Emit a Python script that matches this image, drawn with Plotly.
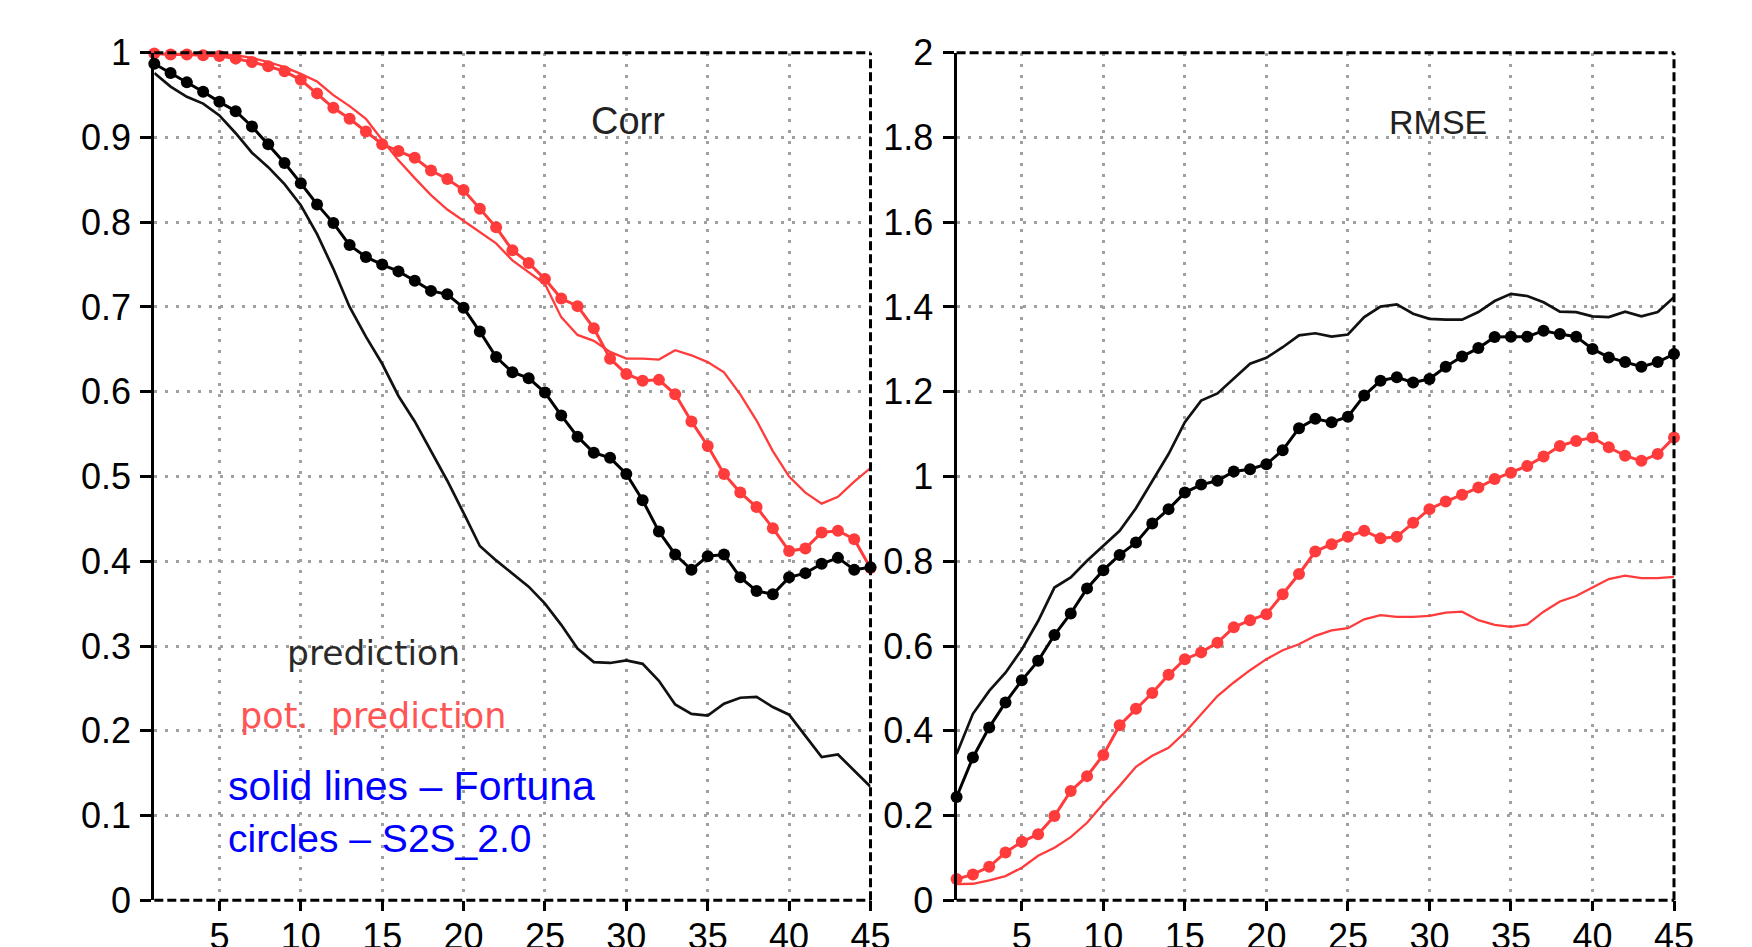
import plotly.graph_objects as go

lead_days = list(range(1, 46))

corr_fortuna_pred = [0.976, 0.960, 0.948, 0.940, 0.926, 0.905, 0.882, 0.865, 0.845, 0.820,
                     0.786, 0.745, 0.700, 0.665, 0.633, 0.595, 0.565, 0.530, 0.495, 0.457,
                     0.418, 0.401, 0.386, 0.370, 0.350, 0.325, 0.297, 0.281, 0.280, 0.283,
                     0.279, 0.259, 0.231, 0.220, 0.218, 0.232, 0.239, 0.240, 0.228, 0.219,
                     0.194, 0.169, 0.172, 0.153, 0.134]
corr_s2s_pred = [0.987, 0.976, 0.965, 0.954, 0.942, 0.931, 0.913, 0.892, 0.870, 0.846,
                 0.821, 0.799, 0.773, 0.759, 0.750, 0.742, 0.731, 0.719, 0.715, 0.699,
                 0.671, 0.641, 0.623, 0.616, 0.599, 0.572, 0.547, 0.528, 0.522, 0.503,
                 0.472, 0.435, 0.408, 0.390, 0.406, 0.408, 0.381, 0.365, 0.361, 0.381,
                 0.386, 0.397, 0.404, 0.390, 0.393]
corr_fortuna_pot = [1.000, 1.000, 0.999, 0.999, 0.998, 0.997, 0.994, 0.989, 0.983, 0.975,
                    0.966, 0.950, 0.937, 0.922, 0.897, 0.873, 0.852, 0.832, 0.815, 0.802,
                    0.788, 0.775, 0.755, 0.741, 0.727, 0.688, 0.667, 0.660, 0.647, 0.639,
                    0.639, 0.638, 0.649, 0.643, 0.635, 0.623, 0.597, 0.566, 0.530, 0.500,
                    0.481, 0.468, 0.476, 0.494, 0.510]
corr_s2s_pot = [0.999, 0.998, 0.998, 0.997, 0.996, 0.993, 0.989, 0.984, 0.978, 0.968,
                0.952, 0.935, 0.922, 0.907, 0.892, 0.884, 0.876, 0.861, 0.851, 0.838,
                0.816, 0.794, 0.767, 0.752, 0.733, 0.710, 0.701, 0.675, 0.639, 0.621,
                0.613, 0.614, 0.597, 0.565, 0.536, 0.503, 0.481, 0.464, 0.439, 0.412,
                0.415, 0.434, 0.436, 0.426, 0.392]

rmse_fortuna_pred = [0.345, 0.440, 0.494, 0.537, 0.592, 0.659, 0.738, 0.762, 0.801, 0.836,
                     0.872, 0.925, 0.990, 1.053, 1.128, 1.179, 1.196, 1.230, 1.266, 1.280,
                     1.305, 1.333, 1.338, 1.330, 1.335, 1.376, 1.401, 1.406, 1.384, 1.372,
                     1.370, 1.370, 1.388, 1.414, 1.431, 1.426, 1.411, 1.389, 1.388, 1.378,
                     1.376, 1.389, 1.378, 1.388, 1.423]
rmse_s2s_pred = [0.244, 0.337, 0.408, 0.467, 0.519, 0.565, 0.626, 0.677, 0.736, 0.779,
                 0.815, 0.844, 0.889, 0.923, 0.962, 0.981, 0.990, 1.012, 1.017, 1.029,
                 1.062, 1.114, 1.136, 1.128, 1.141, 1.191, 1.226, 1.234, 1.222, 1.230,
                 1.259, 1.283, 1.303, 1.329, 1.330, 1.330, 1.344, 1.336, 1.330, 1.301,
                 1.281, 1.270, 1.259, 1.270, 1.289]
rmse_fortuna_pot = [0.038, 0.039, 0.047, 0.057, 0.077, 0.105, 0.124, 0.149, 0.183, 0.228,
                    0.270, 0.315, 0.341, 0.360, 0.396, 0.439, 0.482, 0.514, 0.543, 0.569,
                    0.590, 0.604, 0.624, 0.637, 0.642, 0.663, 0.673, 0.669, 0.669, 0.671,
                    0.679, 0.681, 0.661, 0.650, 0.645, 0.651, 0.681, 0.705, 0.718, 0.738,
                    0.758, 0.766, 0.760, 0.760, 0.763]
rmse_s2s_pot = [0.050, 0.061, 0.079, 0.113, 0.138, 0.156, 0.199, 0.258, 0.293, 0.343,
                0.413, 0.452, 0.489, 0.532, 0.569, 0.585, 0.608, 0.644, 0.661, 0.675,
                0.722, 0.770, 0.823, 0.840, 0.858, 0.872, 0.854, 0.858, 0.891, 0.923,
                0.941, 0.957, 0.974, 0.994, 1.009, 1.025, 1.047, 1.072, 1.084, 1.092,
                1.069, 1.049, 1.037, 1.053, 1.092]

x_tickvals = [5, 10, 15, 20, 25, 30, 35, 40, 45]
x_ticktext = ["5", "10", "15", "20", "25", "30", "35", "40", "45"]
corr_tickvals = [0, 0.1, 0.2, 0.3, 0.4, 0.5, 0.6, 0.7, 0.8, 0.9, 1.0]
corr_ticktext = ["0", "0.1", "0.2", "0.3", "0.4", "0.5", "0.6", "0.7", "0.8", "0.9", "1"]
rmse_tickvals = [0, 0.2, 0.4, 0.6, 0.8, 1.0, 1.2, 1.4, 1.6, 1.8, 2.0]
rmse_ticktext = ["0", "0.2", "0.4", "0.6", "0.8", "1", "1.2", "1.4", "1.6", "1.8", "2"]

BLACK = "#000000"
RED = "#ff3b3b"
W, H = 1752, 947

fig = go.Figure()

def add_panel(xa, ya, fortuna_pred, s2s_pred, fortuna_pot, s2s_pot):
    common = dict(x=lead_days, xaxis=xa, yaxis=ya, cliponaxis=False, hoverinfo="skip", showlegend=False)
    fig.add_trace(go.Scatter(y=fortuna_pred, mode="lines", line=dict(color="#111111", width=2.7), **common))
    fig.add_trace(go.Scatter(y=fortuna_pot, mode="lines", line=dict(color=RED, width=2.3), **common))
    fig.add_trace(go.Scatter(y=s2s_pot, mode="lines+markers", line=dict(color=RED, width=3),
                             marker=dict(color=RED, size=12, line=dict(width=0)), **common))
    fig.add_trace(go.Scatter(y=s2s_pred, mode="lines+markers", line=dict(color=BLACK, width=3),
                             marker=dict(color=BLACK, size=12, line=dict(width=0)), **common))

add_panel("x", "y", corr_fortuna_pred, corr_s2s_pred, corr_fortuna_pot, corr_s2s_pot)
add_panel("x2", "y2", rmse_fortuna_pred, rmse_s2s_pred, rmse_fortuna_pot, rmse_s2s_pot)

tickfont = dict(family="Liberation Sans, Arial, sans-serif", size=36, color="#000000")
grid = dict(showgrid=True, gridcolor="#a0a0a0", gridwidth=2.5, griddash="3px,8px", zeroline=False)

xcommon = dict(range=[1, 45], tickmode="array", tickvals=x_tickvals, ticktext=x_ticktext,
               ticks="outside", ticklen=10, tickwidth=3, tickcolor="#000000",
               showline=False, tickfont=tickfont, automargin=False, ticklabelstandoff=-6, **grid)
ycommon = dict(tickmode="array", ticks="outside", ticklen=11, tickwidth=3, tickcolor="#000000",
               showline=True, linecolor="#000000", linewidth=3, mirror=False,
               tickfont=tickfont, automargin=False, ticklabelstandoff=2, **grid)

yb, yt = (H - 900.3) / H, (H - 52.7) / H
fig.update_layout(
    width=W, height=H, autosize=False,
    margin=dict(l=0, r=0, t=0, b=0),
    paper_bgcolor="white", plot_bgcolor="white",
    xaxis=dict(domain=[154.3 / W, 870.5 / W], anchor="y", **xcommon),
    xaxis2=dict(domain=[956.6 / W, 1674.0 / W], anchor="y2", **xcommon),
    yaxis=dict(domain=[yb, yt], anchor="x", range=[0, 1], tickvals=corr_tickvals, ticktext=corr_ticktext, **ycommon),
    yaxis2=dict(domain=[yb, yt], anchor="x2", range=[0, 2], tickvals=rmse_tickvals, ticktext=rmse_ticktext, **ycommon),
)

shapes = []
for xr, yr in (("x domain", "y domain"), ("x2 domain", "y2 domain")):
    for (x0, y0, x1, y1) in ((0, 1, 1, 1), (1, 0, 1, 1), (0, 0, 1, 0)):
        shapes.append(dict(type="line", xref=xr, yref=yr, x0=x0, y0=y0, x1=x1, y1=y1,
                           line=dict(color="#000000", width=3, dash="9px,4px"), layer="above"))
fig.update_layout(shapes=shapes)

def py(px):
    return (H - px) / H

annotations = [
    dict(text="Corr", x=627.5 / W, y=py(121), xanchor="center", yanchor="middle",
         font=dict(family="Liberation Sans, Arial, sans-serif", size=38, color="#222222")),
    dict(text="RMSE", x=1437.6 / W, y=py(122), xanchor="center", yanchor="middle",
         font=dict(family="Liberation Sans, Arial, sans-serif", size=34, color="#222222")),
    dict(text="prediction", x=285 / W, y=py(652.6), xanchor="left", yanchor="middle",
         font=dict(family="DejaVu Sans, sans-serif", size=34.5, color="#2a2a2a")),
    dict(text="pot.\u00a0 prediction", x=238 / W, y=py(715.6), xanchor="left", yanchor="middle",
         font=dict(family="DejaVu Sans, sans-serif", size=35, color="#ff5555")),
    dict(text="solid lines \u2013 Fortuna", x=226 / W, y=py(786.4), xanchor="left", yanchor="middle",
         font=dict(family="Liberation Sans, Arial, sans-serif", size=41, color="#0000ff")),
    dict(text="circles \u2013 S2S_2.0", x=226 / W, y=py(838.4), xanchor="left", yanchor="middle",
         font=dict(family="Liberation Sans, Arial, sans-serif", size=39, color="#0000ff")),
]
for a in annotations:
    a.update(xref="paper", yref="paper", showarrow=False)
fig.update_layout(annotations=annotations)

fig.write_html("out.html", config={"displayModeBar": False})
